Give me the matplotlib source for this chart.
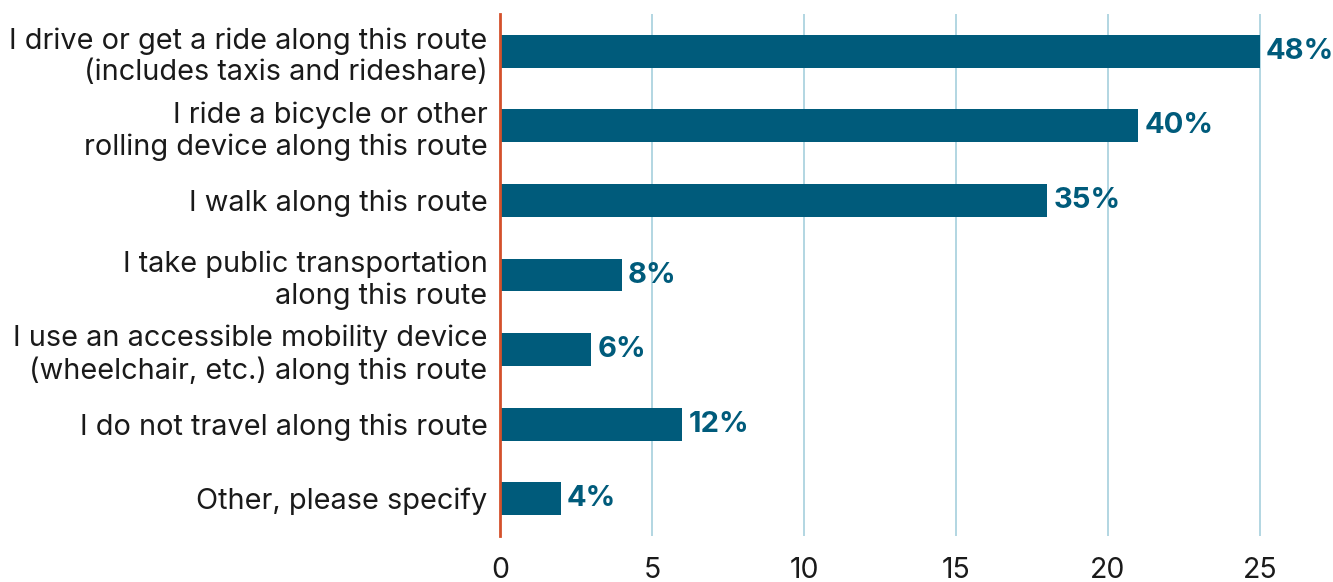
import matplotlib.pyplot as plt

plt.rcParams['font.family'] = ['Inter', 'DejaVu Sans']

categories = [
    "I drive or get a ride along this route\n(includes taxis and rideshare)",
    "I ride a bicycle or other\nrolling device along this route",
    "I walk along this route",
    "I take public transportation\nalong this route",
    "I use an accessible mobility device\n(wheelchair, etc.) along this route",
    "I do not travel along this route",
    "Other, please specify",
]
counts = [25, 21, 18, 4, 3, 6, 2]
respondents = 52
xticks = [0, 5, 10, 15, 20, 25]

bar_color = "#005b7b"

fig = plt.figure(figsize=(13.33, 5.82), dpi=100)
ax = fig.add_axes([500 / 1333, 46 / 582, 833 / 1333, 522 / 582])

y = range(len(categories))
ax.barh(y, counts, height=0.44, color=bar_color, zorder=3)

for i, c in enumerate(counts):
    pct = round(c / respondents * 100)
    ax.text(c + 0.2, i, f"{pct}%", va="center", ha="left",
            fontsize=21, fontweight="bold", color=bar_color, zorder=4)

ax.set_ylim(len(categories) - 0.5, -0.5)
ax.set_xlim(0, 27.4)
ax.set_yticks(list(y))
ax.set_yticklabels(categories, fontsize=20.8, color="#1a1a1a", linespacing=1.2)
ax.set_xticks(xticks)
ax.set_xticklabels([str(t) for t in xticks], fontsize=20.5, color="#1a1a1a")
ax.tick_params(axis="both", length=0)
ax.tick_params(axis="x", pad=15)
ax.tick_params(axis="y", pad=9)

ax.grid(axis="x", color="#a6cfdd", linewidth=1.2, zorder=0)
for s in ["top", "right", "bottom"]:
    ax.spines[s].set_visible(False)
ax.spines["left"].set_color("#d4512b")
ax.spines["left"].set_linewidth(2)
ax.spines["left"].set_zorder(5)

fig.savefig("out.png", dpi=100)
